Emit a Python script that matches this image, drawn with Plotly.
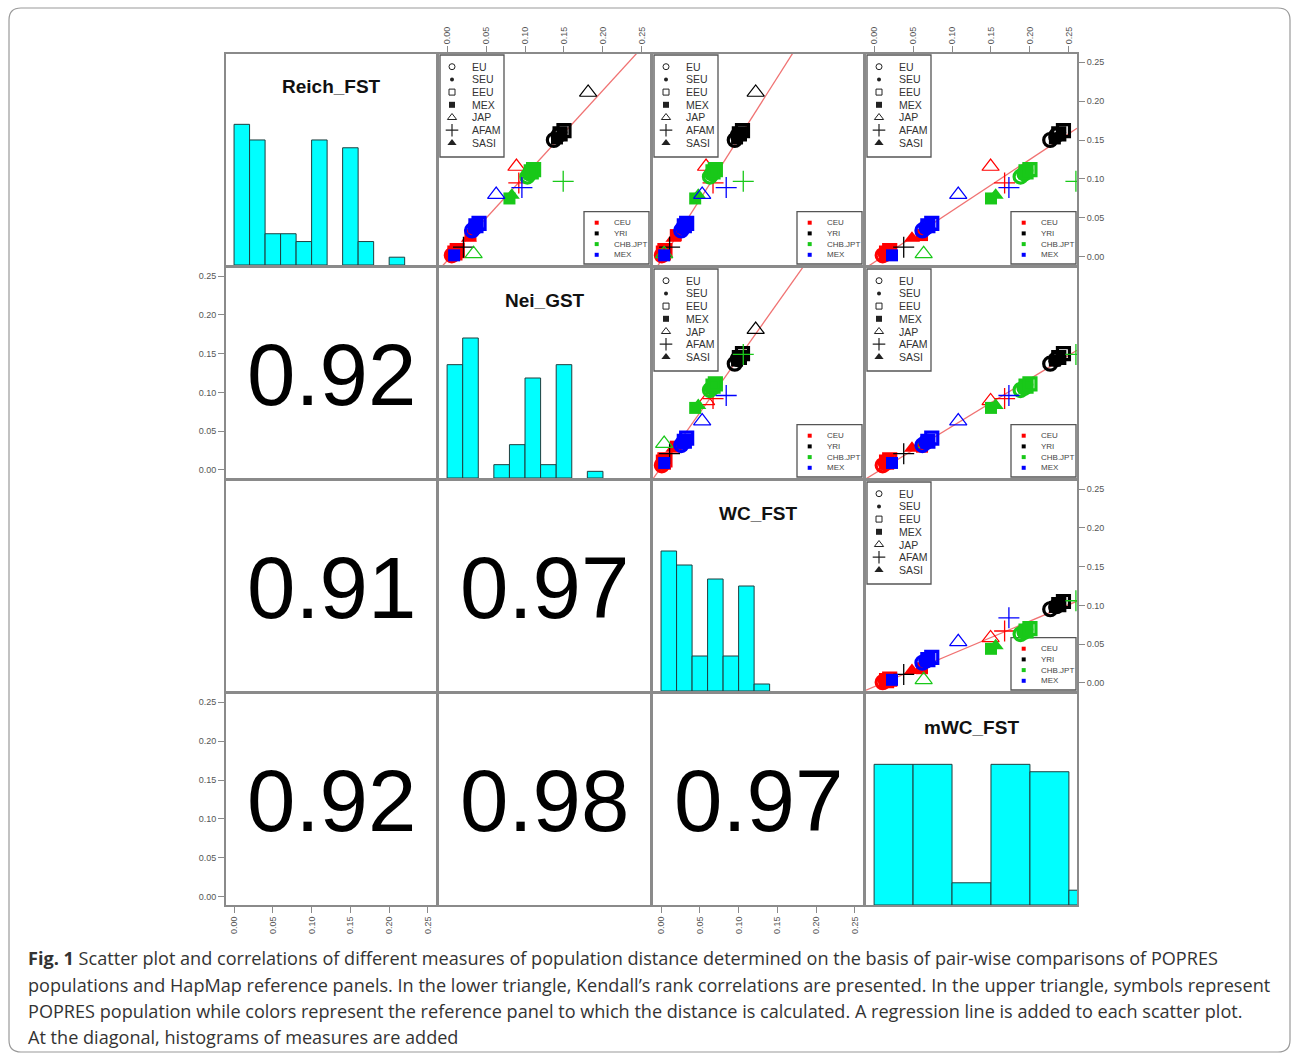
import plotly.graph_objects as go

W, H = 1292, 1055

# ---------------- data ----------------
var_names = ["Reich_FST", "Nei_GST", "WC_FST", "mWC_FST"]
ref_panels = ["CEU", "YRI", "CHB.JPT", "MEX"]
pop_names = ["EU", "SEU", "EEU", "MEX", "JAP", "AFAM", "SASI"]

# one entry per plotted point (population x reference panel)
point_pop = (["EU", "EU", "SEU", "SEU", "EEU", "EEU"] * 4
             + ["MEX"] * 4 + ["JAP"] * 4 + ["AFAM"] * 4 + ["SASI"] * 4)
point_ref = (["CEU"] * 6 + ["YRI"] * 6 + ["CHB.JPT"] * 6 + ["MEX"] * 6
             + ["CEU", "YRI", "CHB.JPT", "MEX"] * 4)

reich_fst = [0.002, 0.004, 0.003, 0.006, 0.005, 0.008,
             0.150, 0.156, 0.153, 0.160, 0.158, 0.162,
             0.103, 0.107, 0.105, 0.111, 0.109, 0.112,
             0.034, 0.038, 0.036, 0.042, 0.040, 0.043,
             0.028, 0.152, 0.075, 0.002,
             0.116, 0.211, 0.004, 0.080,
             0.095, 0.0125, 0.097, 0.089,
             0.024, 0.155, 0.079, 0.040]
nei_gst = [0.006, 0.009, 0.008, 0.012, 0.010, 0.013,
           0.137, 0.143, 0.140, 0.148, 0.145, 0.150,
           0.103, 0.106, 0.105, 0.110, 0.108, 0.111,
           0.032, 0.036, 0.034, 0.039, 0.037, 0.041,
           0.030, 0.141, 0.080, 0.009,
           0.089, 0.181, 0.034, 0.063,
           0.092, 0.021, 0.149, 0.096,
           0.028, 0.144, 0.083, 0.038]
wc_fst = [0.001, 0.003, 0.002, 0.004, 0.003, 0.005,
          0.095, 0.099, 0.097, 0.103, 0.101, 0.105,
          0.063, 0.066, 0.064, 0.069, 0.067, 0.070,
          0.026, 0.029, 0.027, 0.032, 0.030, 0.033,
          0.019, 0.098, 0.044, 0.004,
          0.058, 0.122, 0.004, 0.053,
          0.067, 0.011, 0.106, 0.084,
          0.016, 0.100, 0.048, 0.031]
mwc_fst = [0.011, 0.015, 0.013, 0.018, 0.016, 0.020,
           0.226, 0.234, 0.230, 0.240, 0.237, 0.243,
           0.188, 0.193, 0.190, 0.198, 0.195, 0.200,
           0.062, 0.067, 0.065, 0.071, 0.069, 0.074,
           0.0615, 0.232, 0.150, 0.023,
           0.1495, 0.300, 0.0636, 0.108,
           0.1675, 0.038, 0.259, 0.173,
           0.0486, 0.236, 0.156, 0.070]

# Kendall's rank correlations, lower triangle: (2,1),(3,1),(3,2),(4,1),(4,2),(4,3)
kendall_tau = [0.92, 0.91, 0.97, 0.92, 0.98, 0.97]

# regression lines, upper triangle: (1,2),(1,3),(1,4),(2,3),(2,4),(3,4)
reg_slope = [1.094, 1.568, 0.6605, 1.411, 0.612, 0.424]
reg_intercept = [-0.005, -0.0048, -0.007, 0.0033, -0.005, -0.005]

# histograms on the diagonal
reich_breaks = [0.00, 0.02, 0.04, 0.06, 0.08, 0.10, 0.12, 0.14, 0.16, 0.18, 0.20, 0.22]
reich_counts = [18, 16, 4, 4, 3, 16, 0, 15, 3, 0, 1]
nei_breaks = [0.00, 0.02, 0.04, 0.06, 0.08, 0.10, 0.12, 0.14, 0.16, 0.18, 0.20]
nei_counts = [17, 21, 0, 2, 5, 15, 2, 17, 0, 1]
wc_breaks = [0.00, 0.02, 0.04, 0.06, 0.08, 0.10, 0.12, 0.14]
wc_counts = [20, 18, 5, 16, 5, 15, 1]
mwc_breaks = [0.00, 0.05, 0.10, 0.15, 0.20, 0.25, 0.30]
mwc_counts = [19, 19, 3, 19, 18, 2]

tick_vals = [0.00, 0.05, 0.10, 0.15, 0.20, 0.25]
tick_text = ["0.00", "0.05", "0.10", "0.15", "0.20", "0.25"]

caption_lines = [
    "<b>Fig. 1</b> Scatter plot and correlations of different measures of population distance determined on the basis of pair-wise comparisons of POPRES",
    "populations and HapMap reference panels. In the lower triangle, Kendall\u2019s rank correlations are presented. In the upper triangle, symbols represent",
    "POPRES population while colors represent the reference panel to which the distance is calculated. A regression line is added to each scatter plot.",
    "At the diagonal, histograms of measures are added",
]

# ---------------- styles / layout ----------------
values = [reich_fst, nei_gst, wc_fst, mwc_fst]
hists = [(reich_breaks, reich_counts), (nei_breaks, nei_counts),
         (wc_breaks, wc_counts), (mwc_breaks, mwc_counts)]

ref_color = {"CEU": "#ff0000", "YRI": "#000000", "CHB.JPT": "#19c819", "MEX": "#0000ff"}
pop_symbol = {"EU": ("circle-open", 13, 3.2), "SEU": ("circle", 10, 0),
              "EEU": ("square-open", 12, 3.2), "MEX": ("square", 12, 0),
              "JAP": ("triangle-up-open", 15, 1.2), "AFAM": ("cross-thin-open", 15, 1.3),
              "SASI": ("triangle-up", 14, 0)}
leg_symbol = {"EU": ("circle-open", 6, 1), "SEU": ("circle", 4, 0),
              "EEU": ("square-open", 6, 1), "MEX": ("square", 6, 0),
              "JAP": ("triangle-up-open", 8, 1), "AFAM": ("cross-thin-open", 9, 1.2),
              "SASI": ("triangle-up", 8, 0)}

FONT = "Liberation Sans, Arial, Helvetica, sans-serif"
FRAME = "#8a8a8a"
XR = [-0.0104, 0.2604]
L = [226, 439, 653, 866]
R = [436, 650, 863, 1077]
T = [54, 268, 481, 694]
B = [265, 478, 691, 905]


def pxx(x):
    return x / W


def pyy(y):
    return 1 - y / H


fig = go.Figure()
layout = dict(width=W, height=H, margin=dict(l=0, r=0, t=0, b=0),
              paper_bgcolor="white", plot_bgcolor="rgba(0,0,0,0)",
              showlegend=False, font=dict(family=FONT, color="#333"))
annotations = []
shapes = []

for i in range(4):
    for j in range(4):
        n = i * 4 + j + 1
        xid = "x" if n == 1 else f"x{n}"
        yid = "y" if n == 1 else f"y{n}"
        xa = dict(domain=[pxx(L[j]), pxx(R[j])], range=XR, anchor=yid,
                  showgrid=False, zeroline=False, showline=True, mirror=True,
                  linecolor=FRAME, linewidth=2, fixedrange=True,
                  tickmode="array", tickvals=tick_vals, ticktext=tick_text,
                  ticks="", showticklabels=False)
        ya = dict(domain=[pyy(B[i]), pyy(T[i])], range=(XR if i != j else [0, 1.5]),
                  anchor=xid, showgrid=False, zeroline=False, showline=True, mirror=True,
                  linecolor=FRAME, linewidth=2, fixedrange=True,
                  tickmode="array", tickvals=tick_vals, ticktext=tick_text,
                  ticks="", showticklabels=False)
        tick_style = dict(ticks="outside", ticklen=6, tickwidth=1, tickcolor=FRAME,
                          showticklabels=True,
                          tickfont=dict(size=9, color="#555", family=FONT))
        if (i == 0 and j in (1, 3)):
            xa.update(tick_style, side="top", tickangle=-90)
        if (i == 3 and j in (0, 2)):
            xa.update(tick_style, side="bottom", tickangle=-90)
        if (j == 0 and i in (1, 3)):
            ya.update(tick_style, side="left")
        if (j == 3 and i in (0, 2)):
            ya.update(tick_style, side="right")
        layout["xaxis" if n == 1 else f"xaxis{n}"] = xa
        layout["yaxis" if n == 1 else f"yaxis{n}"] = ya

        cx = (L[j] + R[j]) / 2
        cy = (T[i] + B[i]) / 2
        if i == j:
            brk, cnt = hists[i]
            mx = max(cnt)
            xs, ys, ws = [], [], []
            for k, c in enumerate(cnt):
                if c > 0:
                    xs.append((brk[k] + brk[k + 1]) / 2)
                    ws.append(brk[k + 1] - brk[k])
                    ys.append(c / mx)
            fig.add_trace(go.Bar(x=xs, y=ys, width=ws, xaxis=xid, yaxis=yid,
                                 marker=dict(color="#00ffff",
                                             line=dict(color="#1e3f3f", width=1))))
            annotations.append(dict(text="<b>%s</b>" % var_names[i], xref="paper", yref="paper",
                                    x=pxx(cx), y=pyy(T[i] + 33), showarrow=False,
                                    xanchor="center", yanchor="middle",
                                    font=dict(size=19, color="#111", family=FONT)))
        elif i > j:
            idx = {(1, 0): 0, (2, 0): 1, (2, 1): 2, (3, 0): 3, (3, 1): 4, (3, 2): 5}[(i, j)]
            # invisible trace so the subplot (frame + ticks) is drawn
            fig.add_trace(go.Scatter(x=[0.1], y=[0.1], mode="markers", xaxis=xid, yaxis=yid,
                                     marker=dict(opacity=0), hoverinfo="skip"))
            annotations.append(dict(text="%.2f" % kendall_tau[idx], xref="paper", yref="paper",
                                    x=pxx(cx), y=pyy(cy + 1), showarrow=False,
                                    xanchor="center", yanchor="middle",
                                    font=dict(size=87, color="#000", family=FONT)))
        else:
            idx = {(0, 1): 0, (0, 2): 1, (0, 3): 2, (1, 2): 3, (1, 3): 4, (2, 3): 5}[(i, j)]
            # legend boxes (drawn below points)
            shapes.append(dict(type="rect", xref="paper", yref="paper", layer="below",
                               x0=pxx(L[j] + 1), x1=pxx(L[j] + 65), y0=pyy(T[i] + 103), y1=pyy(T[i] + 1),
                               line=dict(color="#555", width=1.3), fillcolor="white"))
            shapes.append(dict(type="rect", xref="paper", yref="paper", layer="below",
                               x0=pxx(R[j] - 66), x1=pxx(R[j] - 1), y0=pyy(B[i] - 1), y1=pyy(B[i] - 53.3),
                               line=dict(color="#555", width=1.3), fillcolor="white"))
            # regression line
            fig.add_trace(go.Scatter(x=XR, y=[reg_intercept[idx] + reg_slope[idx] * v for v in XR],
                                     mode="lines", line=dict(color="#f07272", width=1.3),
                                     xaxis=xid, yaxis=yid))
            # points
            xv = values[j]
            yv = values[i]
            for ref in ref_panels:
                for pop in pop_names:
                    px_, py_ = [], []
                    for k in range(len(point_pop)):
                        if point_pop[k] == pop and point_ref[k] == ref:
                            px_.append(xv[k])
                            py_.append(yv[k])
                    if not px_:
                        continue
                    sym, sz, lw = pop_symbol[pop]
                    col = ref_color[ref]
                    fig.add_trace(go.Scatter(x=px_, y=py_, mode="markers", xaxis=xid, yaxis=yid,
                                             cliponaxis=True,
                                             marker=dict(symbol=sym, size=sz, color=col,
                                                         line=dict(color=col, width=lw))))

layout["xaxis17"] = dict(domain=[0, 1], range=[0, W], visible=False, fixedrange=True, anchor="y17")
layout["yaxis17"] = dict(domain=[0, 1], range=[H, 0], visible=False, fixedrange=True, anchor="x17")

# legend contents
for i in range(4):
    for j in range(4):
        if i < j:
            for k, pop in enumerate(pop_names):
                yy = T[i] + 12.7 + k * 12.7
                sym, sz, lw = leg_symbol[pop]
                fig.add_trace(go.Scatter(x=[L[j] + 13], y=[yy], mode="markers",
                                         xaxis="x17", yaxis="y17",
                                         marker=dict(symbol=sym, size=sz, color="#222",
                                                     line=dict(color="#222", width=lw))))
                annotations.append(dict(text=pop, xref="paper", yref="paper",
                                        x=pxx(L[j] + 31), y=pyy(yy), showarrow=False,
                                        xanchor="left", yanchor="middle",
                                        font=dict(size=10.5, color="#333", family=FONT)))
            for k, ref in enumerate(ref_panels):
                yy = B[i] - 42.3 + k * 10.7
                fig.add_trace(go.Scatter(x=[R[j] - 53.3], y=[yy], mode="markers",
                                         xaxis="x17", yaxis="y17",
                                         marker=dict(symbol="square", size=4, color=ref_color[ref])))
                annotations.append(dict(text=ref, xref="paper", yref="paper",
                                        x=pxx(R[j] - 38.5), y=pyy(yy), showarrow=False,
                                        xanchor="left", yanchor="middle",
                                        font=dict(size=8, color="#444", family=FONT)))

# caption
cap_y = [958, 985, 1011, 1037]
for k, line in enumerate(caption_lines):
    annotations.append(dict(text=line, xref="paper", yref="paper", x=pxx(26), y=pyy(cap_y[k]),
                            showarrow=False, xanchor="left", yanchor="middle",
                            font=dict(size=18.1, color="#333", family="Open Sans, sans-serif")))

# outer rounded frame
r = 12
x0, x1, y0, y1 = 9, 1290, 8, 1052
path = (f"M {pxx(x0 + r)},{pyy(y0)} L {pxx(x1 - r)},{pyy(y0)} Q {pxx(x1)},{pyy(y0)} {pxx(x1)},{pyy(y0 + r)} "
        f"L {pxx(x1)},{pyy(y1 - r)} Q {pxx(x1)},{pyy(y1)} {pxx(x1 - r)},{pyy(y1)} "
        f"L {pxx(x0 + r)},{pyy(y1)} Q {pxx(x0)},{pyy(y1)} {pxx(x0)},{pyy(y1 - r)} "
        f"L {pxx(x0)},{pyy(y0 + r)} Q {pxx(x0)},{pyy(y0)} {pxx(x0 + r)},{pyy(y0)} Z")
shapes.append(dict(type="path", path=path, xref="paper", yref="paper",
                   line=dict(color="#9a9a9a", width=1.2), layer="below"))

layout["annotations"] = annotations
layout["shapes"] = shapes
fig.update_layout(**layout)
fig.write_html("out.html")
